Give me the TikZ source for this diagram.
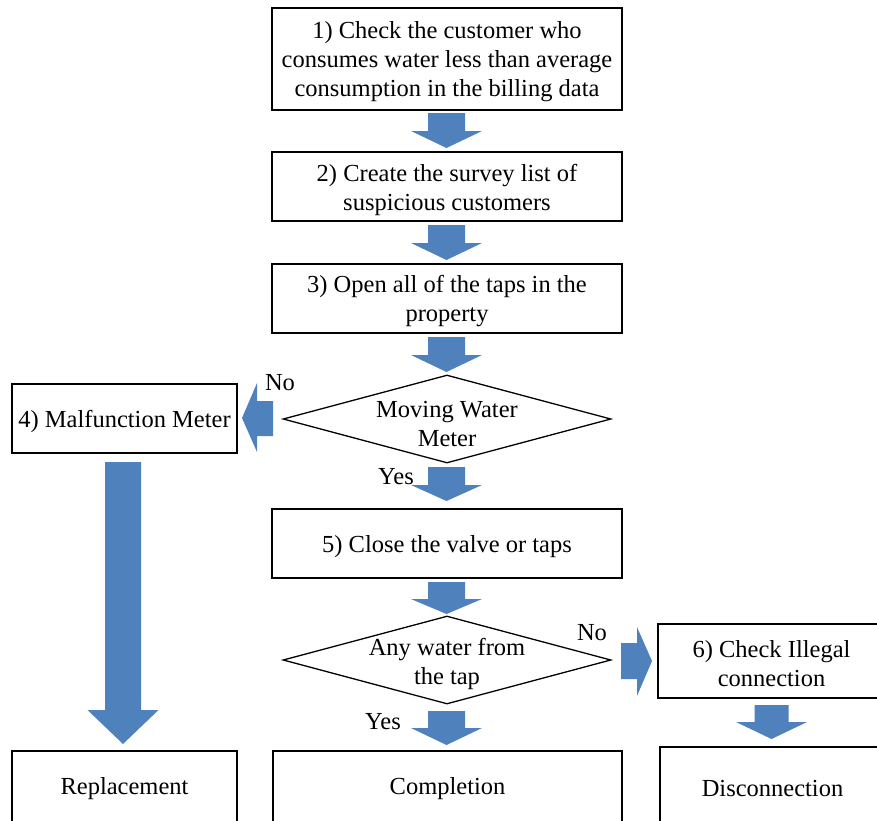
\documentclass[tikz,border=0pt]{standalone}
\usepackage{fontspec}
\setmainfont{Liberation Serif}
\usetikzlibrary{shapes.geometric}
\definecolor{arrowblue}{RGB}{79,129,189}
\begin{document}
\begin{tikzpicture}[x=1pt,y=-1pt,
  txt/.style={font=\fontsize{24.5}{29}\selectfont, align=center, inner sep=0pt},
  box/.style={draw, line width=1.3pt, inner sep=0pt},
  dia/.style={draw, line width=1.3pt, diamond, inner sep=0pt, minimum width=328pt, minimum height=88pt},
  blk/.style={fill=arrowblue, draw=none}]
\useasboundingbox (0,0) rectangle (877,820);
\clip (0,0) rectangle (877,820);
% boxes
\node[box, minimum width=350pt, minimum height=102pt] (b1) at (447,59) {};
\node[txt] (b1t) at (447,62) {1) Check the customer who\\consumes water less than average\\consumption in the billing data};
\node[box, minimum width=350pt, minimum height=69pt] (b2) at (447,186.5) {};
\node[txt] (b2t) at (447,189.5) {2) Create the survey list of\\suspicious customers};
\node[box, minimum width=350pt, minimum height=69pt] (b3) at (447,298.5) {};
\node[txt] (b3t) at (447,301.5) {3) Open all of the taps in the\\property};
\node[dia] (d1) at (447,419) {};
\node[txt] (d1t) at (447,424) {Moving Water\\Meter};
\node[box, minimum width=225pt, minimum height=69pt] (b4) at (124.5,418.5) {};
\node[txt] (b4t) at (124.5,421.5) {4) Malfunction Meter};
\node[box, minimum width=350pt, minimum height=69pt] (b5) at (447,543.5) {};
\node[txt] (b5t) at (447,546.5) {5) Close the valve or taps};
\node[dia] (d2) at (447,660) {};
\node[txt] (d2t) at (447,664) {Any water from\\the tap};
\node[box, minimum width=227pt, minimum height=74pt] (b6) at (771.5,661) {};
\node[txt] (b6t) at (771.5,664) {6) Check Illegal\\connection};
\node[box, minimum width=225pt, minimum height=90pt] (r) at (124.5,796) {};
\node[txt] (rt) at (124.5,789) {Replacement};
\node[box, minimum width=349pt, minimum height=90pt] (c) at (447.5,796) {};
\node[txt] (ct) at (447.5,789) {Completion};
\node[box, minimum width=225pt, minimum height=90pt] (dc) at (772.5,792) {};
\node[txt] (dct) at (772.5,788) {Disconnection};
% labels
\node[txt] (no1) at (280,383) {No};
\node[txt] (yes1) at (396,477) {Yes};
\node[txt] (no2) at (592,633) {No};
\node[txt] (yes2) at (383,722) {Yes};
% block arrows
\newcommand{\downarr}[6]{% cx, top, headbase, tip, shafthalf, headhalf
  \fill[blk] (#1-#5,#2) -- (#1+#5,#2) -- (#1+#5,#3) -- (#1+#6,#3) -- (#1,#4) -- (#1-#6,#3) -- (#1-#5,#3) -- cycle;}
\downarr{446.5}{113}{131}{148}{18.5}{35.5}
\downarr{446.5}{225}{243}{260}{18.5}{35.5}
\downarr{446.5}{337}{355}{372}{18.5}{35.5}
\downarr{446.5}{467}{485}{501}{18.5}{35.5}
\downarr{446.5}{582}{599}{614}{18.5}{35.5}
\downarr{446.5}{711}{728}{745}{18.5}{35.5}
\downarr{771.5}{705}{722}{739}{17}{35.5}
\downarr{123}{462}{710}{744}{18}{35.5}
% left arrow
\fill[blk] (273,401) -- (273,436) -- (257,436) -- (257,452) -- (242,418) -- (257,383) -- (257,401) -- cycle;
% right arrow
\fill[blk] (621,643) -- (621,679) -- (637,679) -- (637,696) -- (652,661) -- (637,627) -- (637,643) -- cycle;
\end{tikzpicture}
\end{document}
